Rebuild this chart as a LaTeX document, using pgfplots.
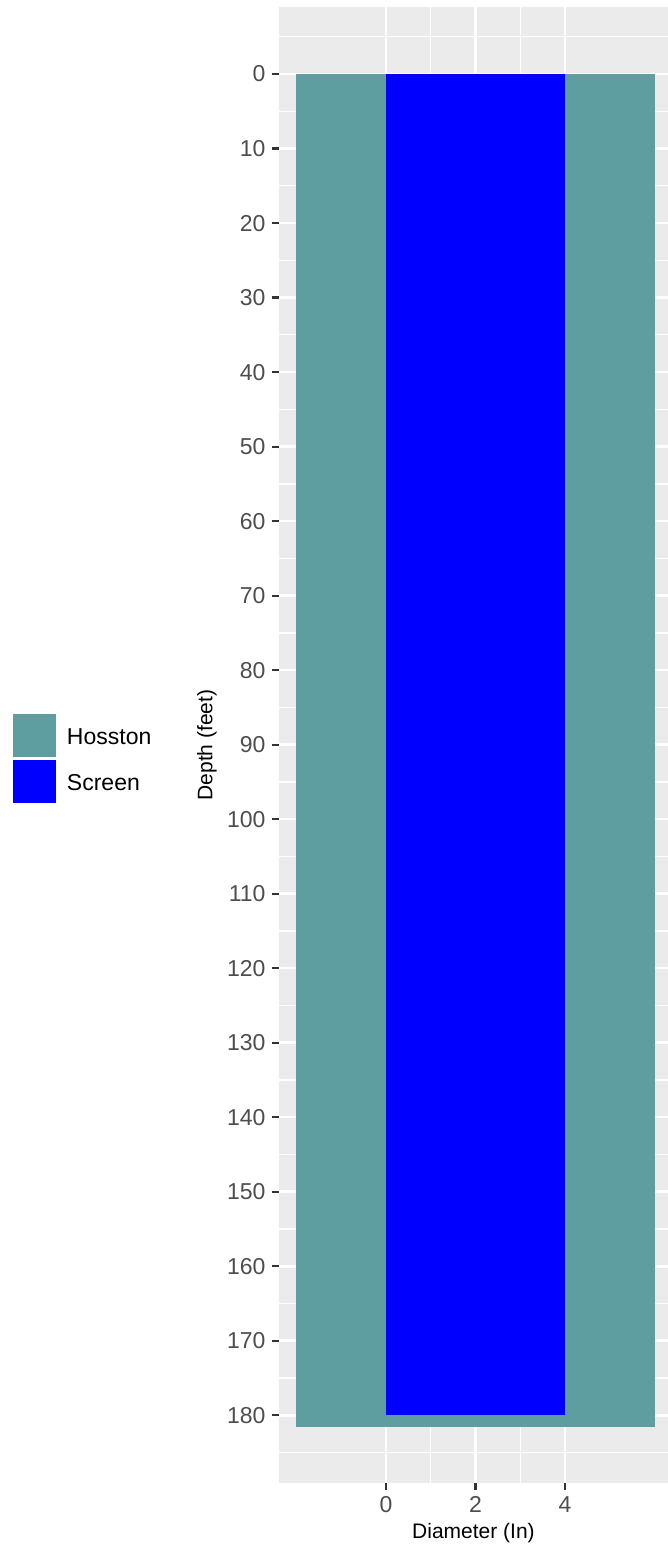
\documentclass[border=0pt]{standalone}
\usepackage{pgfplots}
\pgfplotsset{compat=1.18}
\usepackage{fontspec}
\setmainfont{Liberation Sans}
\definecolor{hosston}{HTML}{5F9EA0}
\definecolor{screen}{HTML}{0000FF}
\definecolor{panelbg}{HTML}{EBEBEB}
\definecolor{tickgrey}{HTML}{4D4D4D}
\definecolor{tickline}{HTML}{333333}
\begin{document}
\begin{tikzpicture}
\begin{axis}[
  scale only axis,
  width=389pt, height=1476pt,
  xmin=-2.39, xmax=6.30,
  ymin=-9.0, ymax=189.1,
  y dir=reverse,
  axis background/.style={fill=panelbg},
  axis line style={draw=none},
  xtick={0,2,4},
  ytick={0,10,...,180},
  minor xtick={1,3},
  minor ytick={-5,5,...,185},
  grid=both,
  major grid style={white, line width=2.6pt},
  minor grid style={white, line width=1.3pt},
  tick align=outside,
  major tick length=7pt,
  minor tick length=0pt,
  tick style={tickline, line width=2.2pt},
  xtick pos=bottom, ytick pos=left,
  /pgf/number format/assume math mode=true,
  ticklabel style={font=\fontsize{23}{27}\selectfont, text=tickgrey},
  yticklabel style={xshift=-3pt},
  xticklabel style={yshift=-3pt},
  xlabel={Diameter (In)},
  ylabel={Depth (feet)},
  every axis x label/.style={at={(rel axis cs:0.5,-0.0339)}, anchor=center, font=\fontsize{21}{25}\selectfont, text=black},
  every axis y label/.style={at={(rel axis cs:-0.185,0.5)}, rotate=90, anchor=center, font=\fontsize{21}{25}\selectfont, text=black},
  legend image code/.code={\path[#1] (0pt,-20pt) rectangle (43pt,23pt);},
  legend cell align=left,
  legend style={at={(-0.6838,0.5210)}, anchor=north west, draw=none, fill=none,
    inner sep=0pt, outer sep=0pt, row sep=3pt, column sep=11pt,
    nodes={inner sep=0pt, font=\fontsize{23}{27}\selectfont}},
  clip=true,
]
\addplot[fill=hosston, draw=none] coordinates {(-2,0) (6,0) (6,181.6) (-2,181.6)} -- cycle;
\addlegendentry{Hosston}
\addplot[fill=screen, draw=none] coordinates {(0,0) (4,0) (4,180) (0,180)} -- cycle;
\addlegendentry{Screen}
\end{axis}
\pgfresetboundingbox
\path[use as bounding box] (-279pt,-64pt) rectangle (389pt,1483pt);
\end{tikzpicture}
\end{document}
